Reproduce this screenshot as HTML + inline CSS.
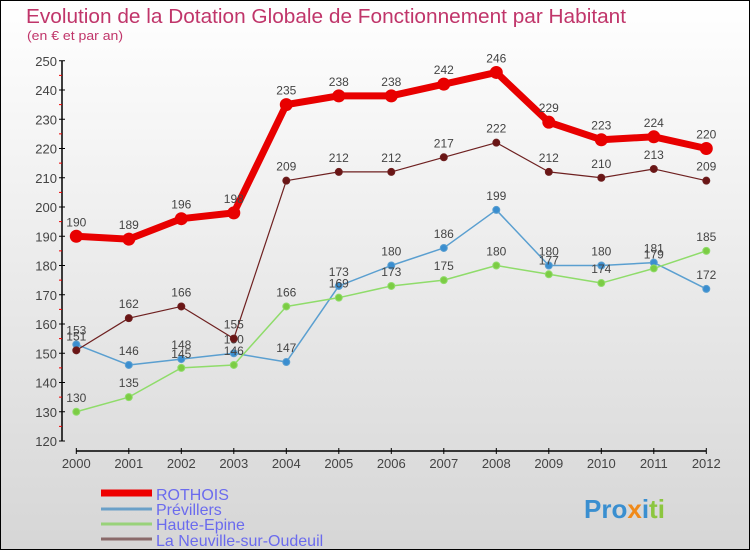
<!DOCTYPE html>
<html><head><meta charset="utf-8"><style>
html,body{margin:0;padding:0}
body{width:750px;height:550px;overflow:hidden;font-family:"Liberation Sans",sans-serif}
#c{position:absolute;left:0;top:0;width:748px;height:548px;border:1px solid #000;background:linear-gradient(#fff,#d6d6d6)}
</style></head><body>
<div id="c">
<svg id="s" width="748" height="548" xmlns="http://www.w3.org/2000/svg">
<text x="25" y="22" font-size="20" fill="#c0356a" textLength="600" lengthAdjust="spacingAndGlyphs">Evolution de la Dotation Globale de Fonctionnement par Habitant</text>
<text x="26" y="39" font-size="13" fill="#c0356a" textLength="96" lengthAdjust="spacingAndGlyphs">(en € et par an)</text>
<g id="axes"></g><g id="series"></g>
<g>
<line x1="100" y1="492" x2="151" y2="492" stroke="#e00" stroke-width="7"/>
<text x="155" y="499" font-size="16" fill="#6b6bee">ROTHOIS</text>
<line x1="100" y1="508" x2="151" y2="508" stroke="#6aa0c8" stroke-width="3"/>
<text x="155" y="514" font-size="16" fill="#6b6bee">Prévillers</text>
<line x1="100" y1="523" x2="151" y2="523" stroke="#99d27a" stroke-width="3"/>
<text x="155" y="529" font-size="16" fill="#6b6bee">Haute-Epine</text>
<line x1="100" y1="538" x2="151" y2="538" stroke="#8a6a6a" stroke-width="3"/>
<text x="155" y="545" font-size="16" fill="#6b6bee">La Neuville-sur-Oudeuil</text>
</g>
<text x="583" y="517" font-size="26" font-weight="bold"><tspan fill="#3a8fd0">Pro</tspan><tspan fill="#f08a1a">x</tspan><tspan fill="#3a8fd0">i</tspan><tspan fill="#8cc63f">ti</tspan></text>
</svg></div>
<script>
const years=[2000,2001,2002,2003,2004,2005,2006,2007,2008,2009,2010,2011,2012];
const rothois=[190,189,196,198,235,238,238,242,246,229,223,224,220];
const previllers=[153,146,148,150,147,173,180,186,199,180,180,181,172];
const hauteEpine=[130,135,145,146,166,169,173,175,180,177,174,179,185];
const laNeuville=[151,162,166,155,209,212,212,217,222,212,210,213,209];
const yTicks=[120,130,140,150,160,170,180,190,200,210,220,230,240,250];
const NS="http://www.w3.org/2000/svg";
function X(i){return 75.3+i*52.5;}
function Y(v){return 440-(v-120)*2.925;}
function mk(t,a,p){const e=document.createElementNS(NS,t);for(const k in a)e.setAttribute(k,a[k]);p.appendChild(e);return e;}
const ax=document.getElementById('axes');
let l=mk('line',{x1:61,y1:Y(120),x2:61,y2:Y(250),stroke:'#000','stroke-width':1.5},ax);


l=mk('line',{x1:X(0),y1:450,x2:X(12),y2:450,stroke:'#000','stroke-width':1.5},ax);


yTicks.forEach((v,i)=>{
 mk('line',{x1:58,y1:Y(v),x2:64,y2:Y(v),stroke:'#000'},ax);
 if(i<yTicks.length-1)mk('line',{x1:58,y1:Y(v+5),x2:61,y2:Y(v+5),stroke:'#e00'},ax);
 const t=mk('text',{x:56,y:Y(v)+5,'font-size':13,fill:'#444','text-anchor':'end'},ax);t.textContent=v;
 
 
});
years.forEach((y,i)=>{
 mk('line',{x1:X(i),y1:447,x2:X(i),y2:453,stroke:'#000'},ax);
 const t=mk('text',{x:X(i),y:467,'font-size':13,fill:'#444','text-anchor':'middle'},ax);t.textContent=y;
 
 
});
const sg=document.getElementById('series');
function series(name,data,color,fill,w,r){
 const g=mk('g',{},sg);
 
 
 const p=mk('polyline',{points:data.map((v,i)=>X(i)+','+Y(v)).join(' '),fill:'none',stroke:color,'stroke-width':w,'stroke-linejoin':'round'},g);
 
 
 data.forEach((v,i)=>{
  const c=mk('circle',{cx:X(i),cy:Y(v),r:r,fill:fill,stroke:color,'stroke-width':1},g);
  
  
  const t=mk('text',{x:X(i),y:Y(v)-10,'font-size':12,fill:'#444','text-anchor':'middle'},g);t.textContent=v;
  
  
 });
}
series('previllers',previllers,'#5a9fd0','#3a8ed0',1.5,3.5);
series('haute-epine',hauteEpine,'#8fdc6a','#7ccc44',1.5,3.5);
series('la-neuville',laNeuville,'#6e2020','#6a1515',1.2,3.5);
series('rothois',rothois,'#e80000','#e80000',7,6);
</script>
</body></html>
